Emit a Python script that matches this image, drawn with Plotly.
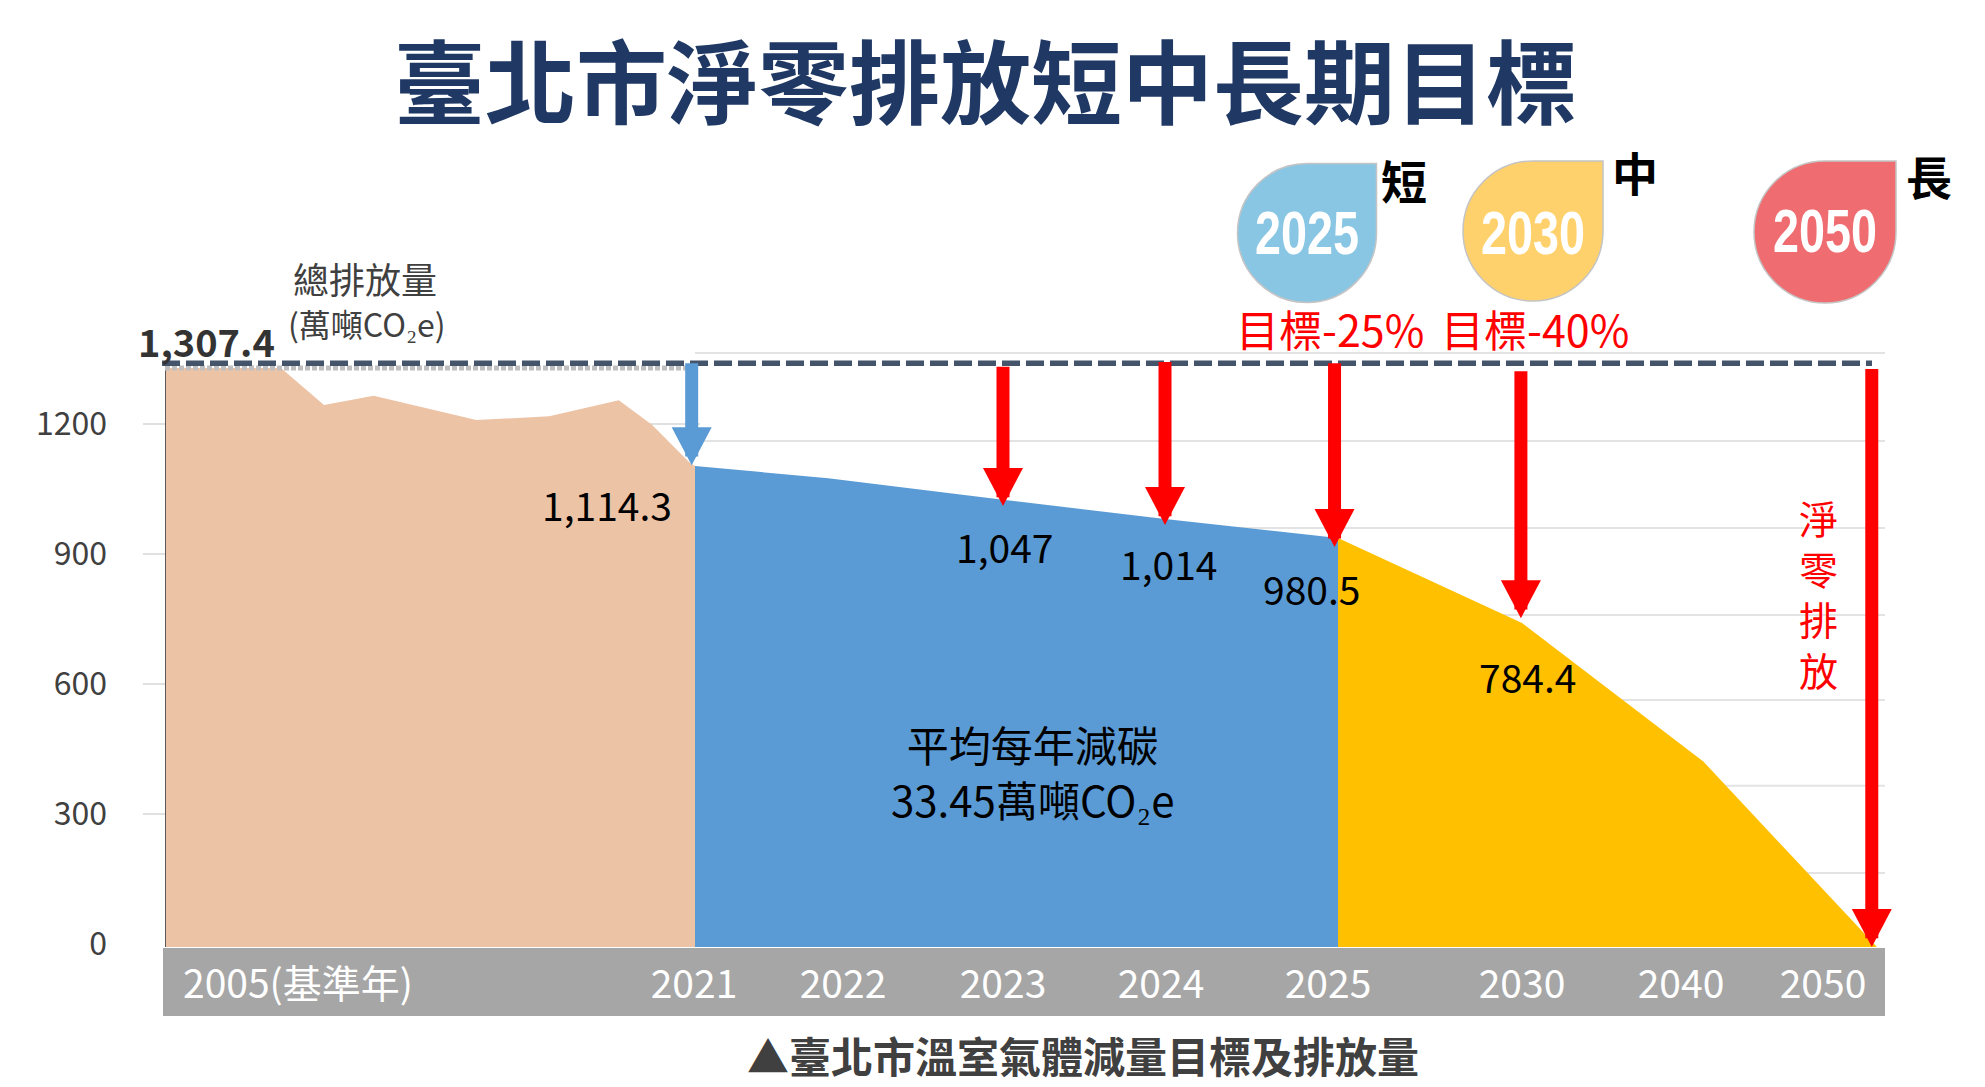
import numpy as np
import plotly.graph_objects as go

W, H = 1985, 1087
CJK = "Noto Sans CJK TC"

# ---- data (in the units of the left axis) ----
tick_years = [2005, 2021, 2022, 2023, 2024, 2025, 2030, 2040, 2050]
base_value = -7
hist_years = [2005, 2008.5, 2009.8, 2011.3, 2014.4, 2016.6, 2018.7, 2019.7, 2020.85, 2021]
hist_values = [1329, 1329, 1244, 1265, 1209, 1218, 1255, 1198, 1110, 1103]
short_years = [2021, 2021.9, 2023, 2024, 2025]
short_values = [1103, 1075, 1025, 981, 937]
mid_years = [2025, 2030, 2040, 2050]
mid_values = [937, 741, 422, -7]
y_ticks = [0, 300, 600, 900, 1200]
bg_grid_values = [164, 365, 563, 759, 960, 1161, 1364]
x_tick_labels = ["2005(基準年)", "2021", "2022", "2023", "2024", "2025", "2030", "2040", "2050"]
baseline_value = 1340
red_arrow_years = [2023, 2024, 2024.98, 2029.97, 2049.7]
red_arrow_tops = [1332, 1343, 1340, 1322, 1327]
red_arrow_tips = [1011, 967, 916, 752, -7]
blue_arrow_year = [2020.9]
blue_arrow_top = [1340]
blue_arrow_tip = [1105]

# ---- scale helpers ----
year_px = [165, 695, 843, 1003, 1165, 1338, 1522, 1703, 1877]
def X(year):
    return float(np.interp(year, tick_years, year_px))
PX_PER_UNIT = 130 / 300
def px(x):
    return x / W
def py(y):
    return 1 - y / H

x_left, x_right, x_dom_right = 165, 1885, 1900
y_top, y_bot = 340, 948
ZERO_PY = 944

fig = go.Figure()

def area(xs, ys, color):
    xp = [X(v) for v in xs]
    fig.add_trace(go.Scatter(x=xp, y=[base_value] * len(xp), mode="lines",
                             line=dict(width=0), hoverinfo="skip", showlegend=False))
    fig.add_trace(go.Scatter(x=xp, y=ys, mode="lines", line=dict(width=0, color=color),
                             fill="tonexty", fillcolor=color, showlegend=False))

area(hist_years, hist_values, "#EDC3A6")
area(short_years, short_values, "#5B9BD5")
area(mid_years, mid_values, "#FFC000")

shapes = []
# band under the plot
shapes.append(dict(type="rect", xref="paper", yref="paper", x0=px(163), x1=px(1885),
                   y0=py(948), y1=py(1016), fillcolor="#A6A6A6", line_width=0, layer="below"))
# faint background grid
for v in bg_grid_values:
    shapes.append(dict(type="line", xref="x", yref="y", x0=X(2021), x1=x_right, y0=v, y1=v,
                       line=dict(color="#E3E3E3", width=2), layer="below"))
for v in y_ticks[1:]:
    shapes.append(dict(type="line", xref="paper", yref="y", x0=px(143), x1=px(700), y0=v, y1=v,
                       line=dict(color="#E0E0E0", width=2), layer="below"))
# y axis line
shapes.append(dict(type="line", xref="x", yref="y", x0=x_left, x1=x_left, y0=base_value, y1=1329,
                   line=dict(color="#595959", width=2)))
# reference lines
shapes.append(dict(type="line", xref="x", yref="y", x0=x_left, x1=X(2020.85), y0=1329, y1=1329,
                   line=dict(color="#BFBFBF", width=5, dash="5px,2px")))
shapes.append(dict(type="line", xref="paper", yref="y", x0=px(162), x1=px(1872), y0=baseline_value, y1=baseline_value,
                   line=dict(color="#44546A", width=5.5, dash="18px,6px")))

def arrow(year, top, tip, color):
    xx = X(year)
    shapes.append(dict(type="line", xref="x", yref="y", x0=xx, x1=xx, y0=top, y1=tip + 20,
                       line=dict(color=color, width=13)))
    shapes.append(dict(type="path", xref="x", yref="y", xsizemode="pixel", ysizemode="pixel",
                       xanchor=xx, yanchor=tip, path="M -20 38 L 20 38 L 0 0 Z",
                       fillcolor=color, line_width=0))

arrow(blue_arrow_year[0], blue_arrow_top[0], blue_arrow_tip[0], "#5B9BD5")
for yr, t, e in zip(red_arrow_years, red_arrow_tops, red_arrow_tips):
    arrow(yr, t, e, "#FF0000")

# teardrops
def drop(cx, cy, r, color):
    k = 0.5523 * r
    p = (f"M {r} {r} L 0 {r} C {-k} {r} {-r} {k} {-r} 0 C {-r} {-k} {-k} {-r} 0 {-r} "
         f"C {k} {-r} {r} {-k} {r} 0 Z")
    shapes.append(dict(type="path", xref="paper", yref="paper", xsizemode="pixel", ysizemode="pixel",
                       xanchor=px(cx), yanchor=py(cy), path=p, fillcolor=color,
                       line=dict(color="#C4C4C4", width=1.5)))
drop(1307, 233, 69.5, "#89C6E4")
drop(1533, 231, 70, "#FFD16D")
drop(1825, 232, 71, "#EF6C70")

anns = []
def text(s, x, y, size, color="#000000", bold=False, family=CJK):
    if bold:
        s = f"<b>{s}</b>"
    anns.append(dict(text=s, x=px(x), y=py(y), xref="paper", yref="paper", showarrow=False,
                     xanchor="center", yanchor="middle", align="center",
                     font=dict(family=family, size=size, color=color)))

text("臺北市淨零排放短中長期目標", 985, 77, 91, "#1F3864", True)
text("▲臺北市溫室氣體減量目標及排放量", 1083, 1054, 42, "#404040", True)
text("總排放量", 365, 278, 36, "#404040")
text("(萬噸CO₂e)", 367, 323, 32, "#404040")
text("1,307.4", 206, 340, 38, "#333333", True)
text("1,114.3", 607, 504, 39)
text("1,047", 1004, 546, 39)
text("1,014", 1168, 563, 39)
text("980.5", 1311, 588, 39)
text("784.4", 1527, 676, 39)
text("平均每年減碳<br>33.45萬噸CO₂e", 1032, 771, 42)
text("目標-25%", 1330, 328, 43, "#FF0000")
text("目標-40%", 1535, 328, 43, "#FF0000")
text("淨<br>零<br>排<br>放", 1818, 593, 39, "#FF0000")
text("短", 1404, 179, 46, "#000000", True)
text("中", 1635, 171, 46, "#000000", True)
text("長", 1929, 175, 46, "#000000", True)
DROP_FONT = "Liberation Sans"
text("2025", 1307, 232, 62, "#FFFFFF", True, DROP_FONT)
text("2030", 1533, 232, 62, "#FFFFFF", True, DROP_FONT)
text("2050", 1825, 231, 62, "#FFFFFF", True, DROP_FONT)

x_label_px = [298, 694, 843, 1003, 1161, 1328, 1522, 1681, 1823]

fig.update_layout(
    width=W, height=H, margin=dict(l=0, r=0, t=0, b=0, pad=0, autoexpand=False),
    paper_bgcolor="white", plot_bgcolor="white", showlegend=False,
    shapes=shapes, annotations=anns,
    xaxis=dict(domain=[x_left / W, x_dom_right / W], range=[x_left, x_dom_right],
               automargin=False, showgrid=False, zeroline=False, showline=False,
               tickmode="array", tickvals=x_label_px, ticktext=x_tick_labels, ticks="",
               tickangle=0, ticklabelstandoff=10,
               tickfont=dict(family=CJK, size=39, color="white")),
    yaxis=dict(domain=[1 - y_bot / H, 1 - y_top / H],
               range=[(ZERO_PY - y_bot) / PX_PER_UNIT, (ZERO_PY - y_top) / PX_PER_UNIT],
               automargin=False, showgrid=False, zeroline=False, showline=False,
               tickmode="array", tickvals=y_ticks, ticks="", ticklabelstandoff=57,
               tickfont=dict(family=CJK, size=32, color="#404040")),
)

# the year labels inside the drops are a tall condensed face: fit them to the width they have
post = """
document.body.style.margin='0';
document.querySelectorAll('text.annotation-text').forEach(function(t){
  var s=t.textContent;
  if(s==='2025'||s==='2030'||s==='2050'){
    t.setAttribute('textLength','104');
    t.setAttribute('lengthAdjust','spacingAndGlyphs');
  }
});
"""
fig.write_html("out.html", post_script=post, config={"displayModeBar": False})
